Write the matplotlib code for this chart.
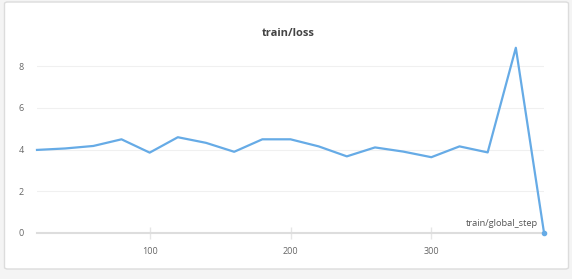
import matplotlib.pyplot as plt
from matplotlib.patches import FancyBboxPatch

plt.rcParams['font.family'] = ['Open Sans', 'DejaVu Sans']

# data
steps = [20, 40, 60, 80, 100, 120, 140, 160, 180, 200,
         220, 240, 260, 280, 300, 320, 340, 360, 380]
loss = [3.98, 4.05, 4.17, 4.49, 3.85, 4.59, 4.32, 3.89, 4.49, 4.49,
        4.15, 3.67, 4.10, 3.90, 3.63, 4.15, 3.86, 8.89, 0.0]
y_ticks = [0, 2, 4, 6, 8]
x_ticks = [100, 200, 300]

W, H = 572, 279
fig = plt.figure(figsize=(W / 100, H / 100), dpi=100, facecolor='#f4f4f4')

# white card behind the chart
card = FancyBboxPatch((4.5 / W, 10 / H), 564 / W, 267 / H,
                      boxstyle='round,pad=0,rounding_size=0.006',
                      transform=fig.transFigure, facecolor='white',
                      edgecolor='#dcdcdc', linewidth=1.0, zorder=-10)
fig.patches.append(card)

ax = fig.add_axes([37 / W, 46.3 / H, 507 / W, 187.2 / H])
ax.set_facecolor('none')

ax.plot(steps, loss, color='#66abe6', linewidth=1.6, zorder=3,
        marker='o', markersize=3, markevery=[len(steps) - 1], clip_on=False)

ax.set_xlim(20, 380)
ax.set_ylim(0, 9)
ax.set_yticks(y_ticks)
ax.set_xticks(x_ticks)

for s in ['top', 'right', 'left']:
    ax.spines[s].set_visible(False)
ax.spines['bottom'].set_color('#dddddd')
ax.spines['bottom'].set_linewidth(1.5)

ax.grid(axis='y', color='#f0f0f0', linewidth=0.8, zorder=0)
ax.tick_params(axis='y', length=0, pad=9.5, labelsize=6.5, labelcolor='#666666')
ax.tick_params(axis='x', direction='inout', length=9, width=1.0, color='#e6e6e6',
               pad=6, labelsize=6.5, labelcolor='#666666')

ax.text(538 / W, 1 - 224 / H, 'train/global_step', transform=fig.transFigure,
        ha='right', va='center', fontsize=6.7, color='#555555')

fig.text(288 / W, 1 - 33 / H, 'train/loss', ha='center', va='center',
         fontsize=8, fontweight='bold', color='#444444')

fig.savefig('out.png', dpi=100, facecolor=fig.get_facecolor())
